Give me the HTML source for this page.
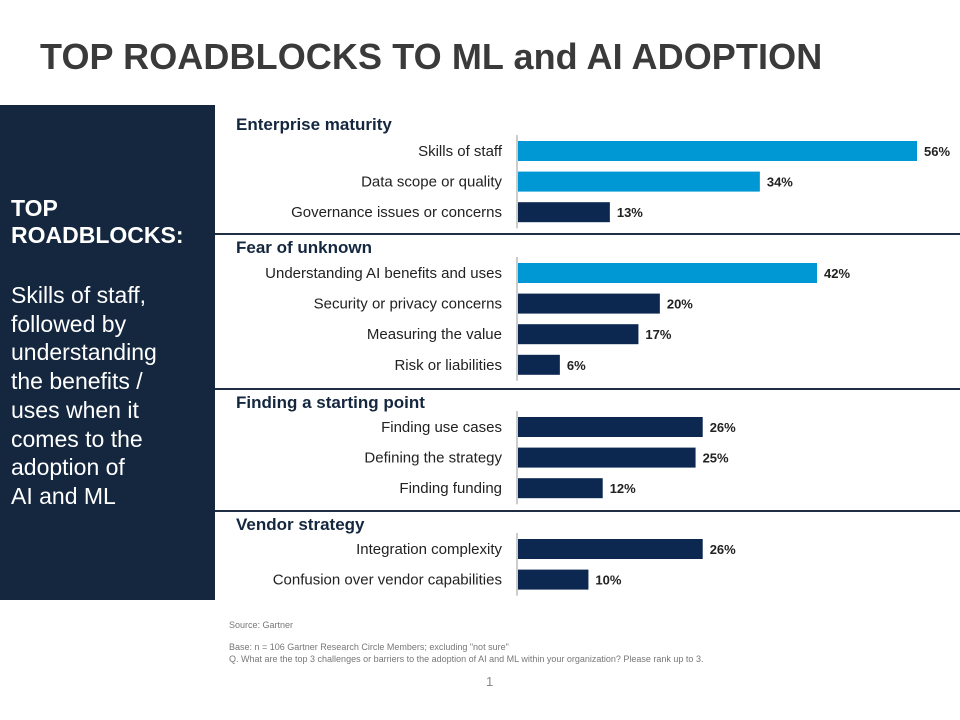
<!DOCTYPE html>
<html><head><meta charset="utf-8"><style>
body{margin:0;width:960px;height:720px;background:#fff;font-family:"Liberation Sans",sans-serif;position:relative;overflow:hidden}
#title{position:absolute;left:40px;top:36px;font-size:36px;font-weight:bold;color:#3a3a3a;margin:0;letter-spacing:0.1px}
#panel{position:absolute;left:0;top:105px;width:215px;height:495px;background:#14273f;color:#fff}
#panel .h{position:absolute;left:11px;top:90px;font-size:23px;font-weight:bold;line-height:27px}
#panel .b{position:absolute;left:11px;top:176px;font-size:23px;line-height:28.7px;width:205px;white-space:nowrap}
.foot{position:absolute;left:229px;font-size:9px;color:#777;white-space:nowrap}
</style></head><body>
<h1 id="title">TOP ROADBLOCKS TO ML and AI ADOPTION</h1>
<div id="panel">
<div class="h">TOP<br>ROADBLOCKS:</div>
<div class="b">Skills of staff,<br>followed by<br>understanding<br>the benefits /<br>uses when it<br>comes to the<br>adoption of<br>AI and ML</div>
</div>
<svg id="chart" width="960" height="720" style="position:absolute;left:0;top:0"></svg>
<div class="foot" style="top:620px">Source: Gartner</div>
<div class="foot" style="top:642px">Base: n = 106 Gartner Research Circle Members; excluding "not sure"</div>
<div class="foot" style="top:654px">Q. What are the top 3 challenges or barriers to the adoption of AI and ML within your organization? Please rank up to 3.</div>
<div style="position:absolute;left:486px;top:674px;font-size:13px;color:#888">1</div>
<script>
const groups=["Enterprise maturity","Fear of unknown","Finding a starting point","Vendor strategy"];
const groupOf=[0,0,0,1,1,1,1,2,2,2,3,3];
const categories=["Skills of staff","Data scope or quality","Governance issues or concerns","Understanding AI benefits and uses","Security or privacy concerns","Measuring the value","Risk or liabilities","Finding use cases","Defining the strategy","Finding funding","Integration complexity","Confusion over vendor capabilities"];
const values=[56,34,13,42,20,17,6,26,25,12,26,10];
const highlight=[true,true,false,true,false,false,false,false,false,false,false,false];
const NS="http://www.w3.org/2000/svg",svg=document.getElementById("chart");
const x0=517,pxPer=400/56;
const xs=v=>x0+v*pxPer;
function mk(t,a){const e=document.createElementNS(NS,t);for(const k in a)e.setAttribute(k,a[k]);svg.appendChild(e);return e;}
const groupTop=[112,235,390,512],rowStart=[151,273,427,549],rowStep=30.6;
groups.forEach((g,gi)=>{
 const t=mk("text",{x:236,y:groupTop[gi]+18,"font-size":17,"font-weight":"bold",fill:"#14273f"});t.textContent=g;
 
 
 const n=groupOf.filter(x=>x===gi).length;
 const ax=mk("line",{x1:x0,x2:x0,y1:rowStart[gi]-16,y2:rowStart[gi]+(n-1)*rowStep+16,stroke:"#999","stroke-width":1});
 
 
 if(gi<3){const s=mk("line",{x1:215,x2:960,y1:groupTop[gi+1]-1,y2:groupTop[gi+1]-1,stroke:"#1e2f45","stroke-width":2});
 
 }
});
const idxIn=[0,0,0,0];
categories.forEach((c,i)=>{
 const g=groupOf[i],cy=rowStart[g]+idxIn[g]*rowStep;idxIn[g]++;
 const l=mk("text",{x:502,y:cy+5,"font-size":15,fill:"#222","text-anchor":"end"});l.textContent=c;
 
 
 const b=mk("rect",{x:x0+1,y:cy-10,width:xs(values[i])-x0-1,height:20,fill:highlight[i]?"#0098d4":"#0c2851"});
 
 
 const v=mk("text",{x:xs(values[i])+7,y:cy+5,"font-size":13,"font-weight":"bold",fill:"#222"});v.textContent=values[i]+"%";
 
 
});
</script>
</body></html>
